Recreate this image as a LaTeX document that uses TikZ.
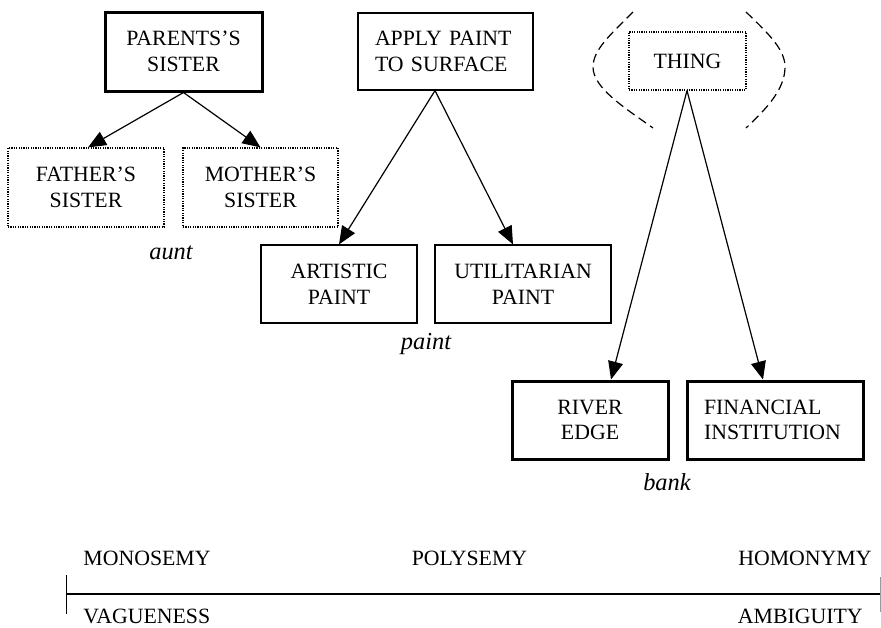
\documentclass[tikz,border=0pt]{standalone}
\usepackage{fontspec}
\setmainfont{Liberation Serif}
\usetikzlibrary{arrows.meta}
\begin{document}
\begin{tikzpicture}[x=0.5pt,y=-0.5pt,
  sensebox/.style={draw, rectangle, inner sep=0pt, align=center,
    font=\fontsize{10.9}{12.8}\selectfont, minimum height=39pt},
  thickbox/.style={sensebox, line width=1.5pt},
  thinbox/.style={sensebox, line width=0.6pt},
  dotbox/.style={sensebox, line width=0.6pt, dash pattern=on 0.6pt off 0.6pt},
  leftbox/.style={align=left, inner xsep=8.5pt, inner ysep=0pt},
  link/.style={line width=0.6pt, -{Triangle[length=9pt,width=7.5pt]}},
  wordlabel/.style={inner sep=0pt, font=\fontsize{12.2}{14}\selectfont\itshape},
  scaletext/.style={inner sep=0pt, font=\fontsize{10.9}{12.8}\selectfont},
  bracket/.style={line width=0.6pt, dash pattern=on 4.5pt off 2.5pt}
]
\useasboundingbox (0,0) rectangle (881,627);

% aunt: one sense, two unlabelled specialisations
\node[thickbox, minimum width=78.5pt, minimum height=39.5pt] (par) at (183.5,51.5) {PARENTS’S\\SISTER};
\node[dotbox, minimum width=78pt, minimum height=39.5pt] (fat) at (86,187.5) {FATHER’S\\SISTER};
\node[dotbox, minimum width=77.5pt, minimum height=39.5pt] (mot) at (260.5,187.5) {MOTHER’S\\SISTER};
\draw[link] (par.south) -- ([xshift=1pt]fat.north);
\draw[link] (par.south) -- (mot.north);
\node[wordlabel, anchor=base] (aunt) at (171,259) {aunt};

% paint: related senses
\node[thinbox, leftbox, text width=70.5pt, minimum height=38.5pt] (app) at (445.5,51.5) {APPLY PAINT\\TO SURFACE};
\node[thinbox, minimum width=78pt] (art) at (339,284) {ARTISTIC\\PAINT};
\node[thinbox, minimum width=88pt] (uti) at (523,284) {UTILITARIAN\\PAINT};
\draw[link] ([xshift=-5.25pt]app.south) -- (art.north);
\draw[link] ([xshift=-5.25pt]app.south) -- ([xshift=-5pt]uti.north);
\node[wordlabel, anchor=base] (paint) at (426,349) {paint};

% bank: unrelated senses under a vacuous root
\node[dotbox, minimum width=58.5pt, minimum height=29pt] (thing) at (687.5,61) {THING};
\draw[bracket] (633,12) .. controls (610,35) and (593,50) .. (593,67)
  .. controls (593,88) and (625,108) .. (653,128);
\draw[bracket] (746,12) .. controls (770,35) and (785,50) .. (785,67)
  .. controls (785,90) and (765,110) .. (746,128);
\node[thickbox, minimum width=78pt] (riv) at (590,420) {RIVER\\EDGE};
\node[thickbox, leftbox, text width=71pt, minimum height=39pt] (fin) at (775,420) {FINANCIAL\\INSTITUTION};
\draw[link] ([xshift=-0.25pt]thing.south) -- ([xshift=10.5pt]riv.north);
\draw[link] ([xshift=-0.25pt]thing.south) -- ([xshift=-6pt]fin.north);
\node[wordlabel, anchor=base] (bank) at (667,490) {bank};

% scale from vagueness to ambiguity
\node[scaletext, anchor=base west] (mono) at (83,565) {MONOSEMY};
\node[scaletext, anchor=base] (poly) at (469.5,565) {POLYSEMY};
\node[scaletext, anchor=base east] (homo) at (872,565) {HOMONYMY};
\node[scaletext, anchor=base west] (vague) at (83,623) {VAGUENESS};
\node[scaletext, anchor=base east] (ambi) at (863,623) {AMBIGUITY};
\coordinate (axl) at (66.5,594);
\coordinate (axr) at (881,594);
\coordinate (tickltop) at (66.5,575);
\coordinate (ticklbot) at (66.5,614);
\coordinate (tickrtop) at (880.5,577);
\coordinate (tickrbot) at (880.5,612);
\draw[line width=1pt] (axl) -- (axr);
\draw[line width=0.6pt] (tickltop) -- (ticklbot);
\draw[line width=0.6pt, black!40] (tickrtop) -- (tickrbot);
\end{tikzpicture}
\end{document}
